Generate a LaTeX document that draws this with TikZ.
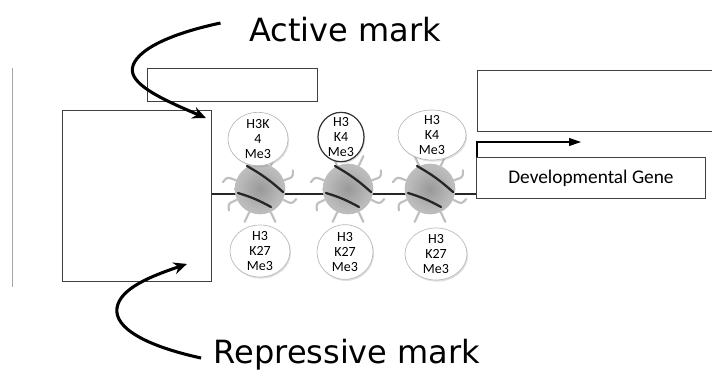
\documentclass[tikz,border=0pt]{standalone}
\usepackage{fontspec}
\setmainfont{Carlito}
\newfontfamily\handfont{DejaVu Sans}
\usetikzlibrary{positioning,shapes.geometric,shadows,arrows.meta}

% white face with a grey rim for the histone marks
\pgfdeclareradialshading{histoneshade}{\pgfpoint{-6bp}{6bp}}{%
  color(0bp)=(white); color(30bp)=(white); color(42bp)=(gray!18); color(50bp)=(gray!45)}
\pgfdeclareradialshading{coreshade}{\pgfpoint{0bp}{0bp}}{%
  color(0bp)=(gray!80); color(20bp)=(gray!55); color(40bp)=(gray!40); color(50bp)=(gray!32)}

\tikzset{
  frame/.style={draw=black!75, line width=0.7pt, inner sep=0pt, anchor=north west},
  histone/.style={ellipse, draw=gray!55, line width=0.5pt, inner sep=0pt,
    shading=histoneshade,
    drop shadow={opacity=0.25, shadow xshift=0.8pt, shadow yshift=-1.2pt}},
  hlabel/.style={font=\fontsize{10.5}{11.2}\selectfont, align=center, inner sep=0pt},
  nucleosome/.style={ellipse, minimum width=38pt, minimum height=38pt, inner sep=0pt,
    shading=coreshade},
  tail/.style={draw=gray!50, line width=1.6pt, rounded corners=2pt, line cap=round},
  wrap/.style={draw=black!85, line width=1.7pt, line cap=round},
  dna/.style={draw=black!85, line width=1.6pt},
  curly/.style={draw=black, line width=2.3pt, -{Stealth[length=10pt,width=9pt]}},
  hand/.style={font=\handfont\fontsize{24}{28}\selectfont}
}

\begin{document}
\begin{tikzpicture}[x=0.75pt, y=-0.75pt]
  \path[use as bounding box, fill=white] (0,0) rectangle (712,383);

  % Define the boxes
  \node[frame, minimum width=127.5pt, minimum height=24.75pt] (topbox) at (147,68) {};
  \node[frame, minimum width=111.75pt, minimum height=128.25pt] (leftbox) at (62,110) {};
  \node[frame, minimum width=180pt, minimum height=45.75pt] (rightbox) at (477,70) {};
  \node[frame, minimum width=171.75pt, minimum height=30.75pt,
        font=\fontsize{14.5}{16}\selectfont] (gene) at (476,157) {Developmental Gene};
  \draw[gray!70, line width=0.6pt] (12,68) -- (12,287);

  % DNA strand
  \coordinate (dnaY) at (0,194);
  \draw[dna] (leftbox.east |- dnaY) -- (gene.west |- dnaY);
  \draw[-{Triangle[length=9pt,width=6pt]}, line width=0.8pt]
    ([xshift=0.75pt]gene.north west) |- ++(104,-15);

  % Nucleosomes with tails
  \foreach \n/\x in {1/260,2/348,3/430} {
    \node[nucleosome] (nuc\n) at (\x,189) {};
    \foreach \a in {20,160,205,335}
      \draw[tail] (nuc\n.\a) -- ++(\a:7pt) -- ++(\a+70:5pt);
    \foreach \a in {65,115,245,295}
      \draw[tail] (nuc\n.\a) -- ++(\a:8pt);
    \draw[wrap] ([shift={(-13,-23)}]nuc\n.center) to[bend left=6] ([shift={(23,3)}]nuc\n.center);
    \draw[wrap] ([shift={(-22,4)}]nuc\n.center) to[bend left=6] ([shift={(11,18)}]nuc\n.center);
  }

  % Histone marks
  \node[histone, minimum width=45pt, minimum height=40pt,
        label={[hlabel]center:{H3K\\4\\Me3}}] (k4a) at (258,139) {};
  \node[histone, draw=black!80, line width=0.9pt, minimum width=34.5pt, minimum height=37pt,
        label={[hlabel]center:{H3\\K4\\Me3}}] (k4b) at (341,137) {};
  \node[histone, minimum width=51pt, minimum height=37.5pt,
        label={[hlabel]center:{H3\\K4\\Me3}}] (k4c) at (432,135) {};
  \node[histone, minimum width=45pt, minimum height=39pt,
        label={[hlabel]center:{H3\\K27\\Me3}}] (k27a) at (260,251) {};
  \node[histone, minimum width=42pt, minimum height=41pt,
        label={[hlabel]center:{H3\\K27\\Me3}}] (k27b) at (345,252) {};
  \node[histone, minimum width=46.5pt, minimum height=39pt,
        label={[hlabel]center:{H3\\K27\\Me3}}] (k27c) at (436,254) {};

  % Labels and arrows
  \node[hand] (active) at (345,30) {Active mark};
  \node[hand] (repressive) at (347,355) {Repressive mark};

  \draw[curly] ([shift={(-24,-7)}]active.west)
    .. controls +(-70,15) and +(-5,-15) .. (133,74)
    .. controls +(5,15) and +(-35,-15) .. ([shift={(-6,8)}]leftbox.north east);
  \draw[curly] ([shift={(-8,3)}]repressive.west)
    .. controls +(-55,-12) and +(-3,20) .. (117,308)
    .. controls +(3,-20) and +(-35,12) .. ([shift={(-25,-18)}]leftbox.south east);
\end{tikzpicture}
\end{document}
